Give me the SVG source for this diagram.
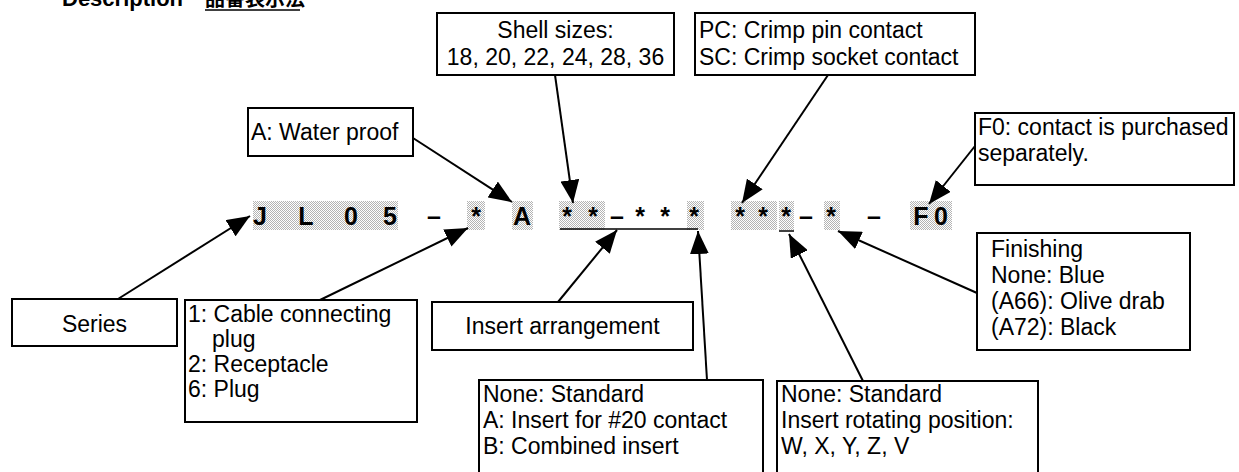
<svg xmlns="http://www.w3.org/2000/svg" width="1239" height="472" viewBox="0 0 1239 472">
<defs>
<style>
.box{fill:#fff;stroke:#000;stroke-width:2}
.t{font-family:"Liberation Sans",Arial,sans-serif;font-size:23px;fill:#000}
.code{font-family:"Liberation Sans",Arial,sans-serif;font-size:25px;font-weight:bold;fill:#000;text-anchor:middle}
.sh{fill:url(#dots)}
.con line{stroke:#000;stroke-width:2;marker-end:url(#arr)}
.ul{stroke:#000;stroke-width:1.5}
</style>
<pattern id="dots" width="2" height="2" patternUnits="userSpaceOnUse">
<rect width="2" height="2" fill="#fff"/>
<rect width="1" height="1" fill="#b4b4b4"/>
<rect x="1" y="1" width="1" height="1" fill="#b4b4b4"/>
</pattern>
<marker id="arr" markerUnits="userSpaceOnUse" markerWidth="23" markerHeight="19" refX="23" refY="9.5" orient="auto">
<path d="M0,0 L23,9.5 L0,19 z" fill="#000"/>
</marker>
</defs>
<rect width="1239" height="472" fill="#fff"/>

<g id="heading">
<text x="62" y="6" style="font-family:'Liberation Sans',Arial,sans-serif;font-size:22px;font-weight:bold">Description</text>
<text x="205" y="6" style="font-family:'Liberation Sans','Noto Sans CJK JP',sans-serif;font-size:20px;font-weight:bold">品番表示法</text>
<line x1="205" y1="10" x2="300" y2="10" class="ul"/>
</g>

<g id="code">
<rect class="sh" x="253" y="201" width="145" height="29"/>
<rect class="sh" x="467" y="201" width="18" height="29"/>
<rect class="sh" x="512" y="201" width="21" height="29"/>
<rect class="sh" x="559" y="201" width="46" height="29"/>
<rect class="sh" x="687" y="201" width="17" height="29"/>
<rect class="sh" x="731" y="201" width="46" height="29"/>
<rect class="sh" x="779" y="201" width="15" height="29"/>
<rect class="sh" x="824" y="201" width="16" height="29"/>
<rect class="sh" x="910" y="201" width="42" height="29"/>
<text class="code" x="260" y="225">J</text>
<text class="code" x="306" y="225">L</text>
<text class="code" x="351" y="225">0</text>
<text class="code" x="390" y="225">5</text>
<text class="code" x="434" y="225">–</text>
<text class="code" x="476" y="225">*</text>
<text class="code" x="522" y="225">A</text>
<text class="code" x="567" y="225">*</text>
<text class="code" x="593" y="225">*</text>
<text class="code" x="617" y="225">–</text>
<text class="code" x="640" y="225">*</text>
<text class="code" x="665" y="225">*</text>
<text class="code" x="694" y="225">*</text>
<text class="code" x="740" y="225">*</text>
<text class="code" x="763" y="225">*</text>
<text class="code" x="786" y="225">*</text>
<text class="code" x="806" y="225">–</text>
<text class="code" x="831" y="225">*</text>
<text class="code" x="874" y="225">–</text>
<text class="code" x="921" y="225">F</text>
<text class="code" x="941" y="225">0</text>
<line class="ul" x1="560" y1="229" x2="698" y2="229"/>
<line class="ul" x1="779" y1="231" x2="794" y2="231"/>
</g>

<g id="connectors" class="con">
<line x1="118" y1="299" x2="250" y2="216"/>
<line x1="320" y1="300" x2="468" y2="228"/>
<line x1="413" y1="138" x2="512" y2="202"/>
<line x1="555" y1="75" x2="573" y2="203"/>
<line x1="828" y1="75" x2="742" y2="203"/>
<line x1="975" y1="146" x2="929" y2="204"/>
<line x1="977" y1="293" x2="838" y2="231"/>
<line x1="863" y1="381" x2="789" y2="234"/>
<line x1="558" y1="302" x2="617" y2="230"/>
<line x1="707" y1="380" x2="698" y2="231"/>
</g>

<g id="shell">
<rect class="box" x="437" y="13" width="237" height="62"/>
<text class="t" x="555.5" y="38" text-anchor="middle">Shell sizes:</text>
<text class="t" x="555.5" y="65" text-anchor="middle">18, 20, 22, 24, 28, 36</text>
</g>

<g id="contact">
<rect class="box" x="695" y="13" width="280" height="62"/>
<text class="t" x="699" y="38">PC: Crimp pin contact</text>
<text class="t" x="699" y="65">SC: Crimp socket contact</text>
</g>

<g id="waterproof">
<rect class="box" x="248" y="108" width="165" height="48"/>
<text class="t" x="251" y="140">A: Water proof</text>
</g>

<g id="f0">
<rect class="box" x="975" y="113" width="259" height="72"/>
<text class="t" x="978" y="135">F0: contact is purchased</text>
<text class="t" x="978" y="161">separately.</text>
</g>

<g id="series">
<rect class="box" x="12" y="299" width="165" height="47"/>
<text class="t" x="94.5" y="332" text-anchor="middle">Series</text>
</g>

<g id="type">
<rect class="box" x="185" y="300" width="232" height="122"/>
<text class="t" x="188" y="322">1: Cable connecting</text>
<text class="t" x="212" y="347">plug</text>
<text class="t" x="188" y="372">2: Receptacle</text>
<text class="t" x="188" y="397">6: Plug</text>
</g>

<g id="arrangement">
<rect class="box" x="432" y="302" width="261" height="48"/>
<text class="t" x="562.5" y="334" text-anchor="middle">Insert arrangement</text>
</g>

<g id="insert">
<rect class="box" x="479" y="380" width="284" height="100"/>
<text class="t" x="483" y="402">None: Standard</text>
<text class="t" x="483" y="428">A: Insert for #20 contact</text>
<text class="t" x="483" y="454">B: Combined insert</text>
</g>

<g id="rotation">
<rect class="box" x="777" y="381" width="261" height="100"/>
<text class="t" x="781" y="402">None: Standard</text>
<text class="t" x="781" y="428">Insert rotating position:</text>
<text class="t" x="781" y="454">W, X, Y, Z, V</text>
</g>

<g id="finishing">
<rect class="box" x="977" y="233" width="213" height="117"/>
<text class="t" x="991" y="257">Finishing</text>
<text class="t" x="991" y="283">None: Blue</text>
<text class="t" x="991" y="309">(A66): Olive drab</text>
<text class="t" x="991" y="335">(A72): Black</text>
</g>
</svg>
